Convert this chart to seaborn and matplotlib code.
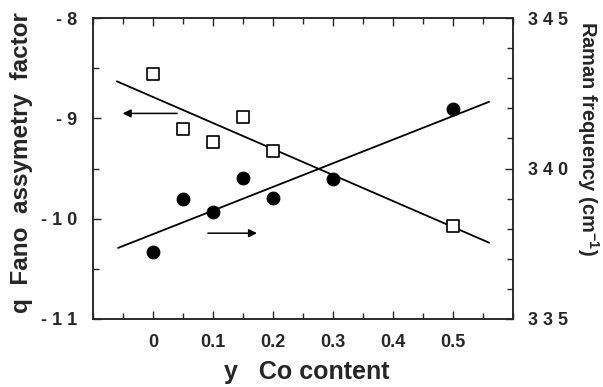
import pandas as pd
import matplotlib
matplotlib.use("Agg")
import matplotlib.pyplot as plt
import seaborn as sns
from matplotlib.ticker import MultipleLocator, FixedLocator

# --- Data ---
co_sq = [0.0, 0.05, 0.10, 0.15, 0.20, 0.50]
fano_q = [-8.56, -9.11, -9.24, -8.99, -9.33, -10.07]

co_dot = [0.0, 0.05, 0.10, 0.15, 0.20, 0.30, 0.50]
raman = [337.24, 338.98, 338.57, 339.68, 339.02, 339.65, 341.98]

# straight guide lines (end points)
q_line_x = [-0.06, 0.56]
q_line_y = [-8.63, -10.24]
r_line_x = [-0.058, 0.56]
r_line_y = [337.36, 342.22]

x_ticks = [0, 0.1, 0.2, 0.3, 0.4, 0.5]
x_labels = ["0", "0.1", "0.2", "0.3", "0.4", "0.5"]
q_ticks = [-8, -9, -10, -11]
q_labels = ["- 8", "- 9", "- 1 0", "- 1 1"]
r_ticks = [335, 340, 345]
r_labels = ["3 3 5", "3 4 0", "3 4 5"]

sns.set_style("ticks")
plt.rcParams["font.family"] = ["Liberation Sans", "DejaVu Sans"]
plt.rcParams["font.weight"] = "bold"
plt.rcParams["mathtext.fontset"] = "custom"
plt.rcParams["mathtext.rm"] = "Liberation Sans:bold"
plt.rcParams["mathtext.it"] = "Liberation Sans:bold"
plt.rcParams["mathtext.bf"] = "Liberation Sans:bold"

fig, ax = plt.subplots(figsize=(6.03, 3.87), dpi=100)
fig.subplots_adjust(left=0.154, right=0.851, top=0.953, bottom=0.176)
ax2 = ax.twinx()

sq = pd.DataFrame({"co": co_sq, "q": fano_q})
dot = pd.DataFrame({"co": co_dot, "raman": raman})

sns.lineplot(x=q_line_x, y=q_line_y, ax=ax, color="black", lw=1.3)
sns.scatterplot(data=sq, x="co", y="q", ax=ax, marker="s", s=70,
                facecolor="white", edgecolor="black", linewidth=1.2, zorder=3)
sns.lineplot(x=r_line_x, y=r_line_y, ax=ax2, color="black", lw=1.3)
sns.scatterplot(data=dot, x="co", y="raman", ax=ax2, marker="o", s=85,
                color="black", edgecolor="black", zorder=3)

# arrows pointing to the relevant axis
ax.annotate("", xy=(-0.055, -8.95), xytext=(0.045, -8.95),
            arrowprops=dict(arrowstyle="-|>", color="black", lw=1.1,
                            mutation_scale=12))
ax2.annotate("", xy=(0.178, 337.85), xytext=(0.087, 337.85),
             arrowprops=dict(arrowstyle="-|>", color="black", lw=1.1,
                             mutation_scale=12))

ax.set_xlim(-0.1, 0.6)
ax.set_ylim(-11, -8)
ax2.set_ylim(335, 345)

ax.xaxis.set_major_locator(FixedLocator(x_ticks))
ax.set_xticklabels(x_labels)
ax.xaxis.set_minor_locator(MultipleLocator(0.05))
ax.yaxis.set_major_locator(FixedLocator(q_ticks))
ax.set_yticklabels(q_labels)
ax.yaxis.set_minor_locator(MultipleLocator(0.5))
ax2.yaxis.set_major_locator(FixedLocator(r_ticks))
ax2.set_yticklabels(r_labels)
ax2.yaxis.set_minor_locator(MultipleLocator(1))

ax.tick_params(which="both", direction="in", top=True, right=False,
               labelsize=13, width=1)
ax.tick_params(axis="x", pad=11)
ax.tick_params(axis="y", pad=11)
ax.tick_params(which="major", length=6)
ax.tick_params(which="minor", length=4)
ax2.tick_params(which="both", direction="in", labelsize=13, width=1, pad=11)
ax2.tick_params(which="major", length=6)
ax2.tick_params(which="minor", length=4)

for a in (ax, ax2):
    for s in a.spines.values():
        s.set_visible(True)
        s.set_linewidth(1.1)

ax.set_xlabel("y   Co content", fontsize=18, fontweight="bold", va="center")
ax.xaxis.set_label_coords(0.51, -0.176)
ax.set_ylabel("q  Fano  assymetry  factor", fontsize=17.5, fontweight="bold")
ax.yaxis.set_label_coords(-0.143, 0.52)
ax2.set_ylabel("Raman frequency (cm$^{-1}$)", fontsize=14.5, fontweight="bold",
               rotation=-90, va="center")
ax2.yaxis.set_label_coords(1.179, 0.60)

fig.savefig("out.png", dpi=100)
